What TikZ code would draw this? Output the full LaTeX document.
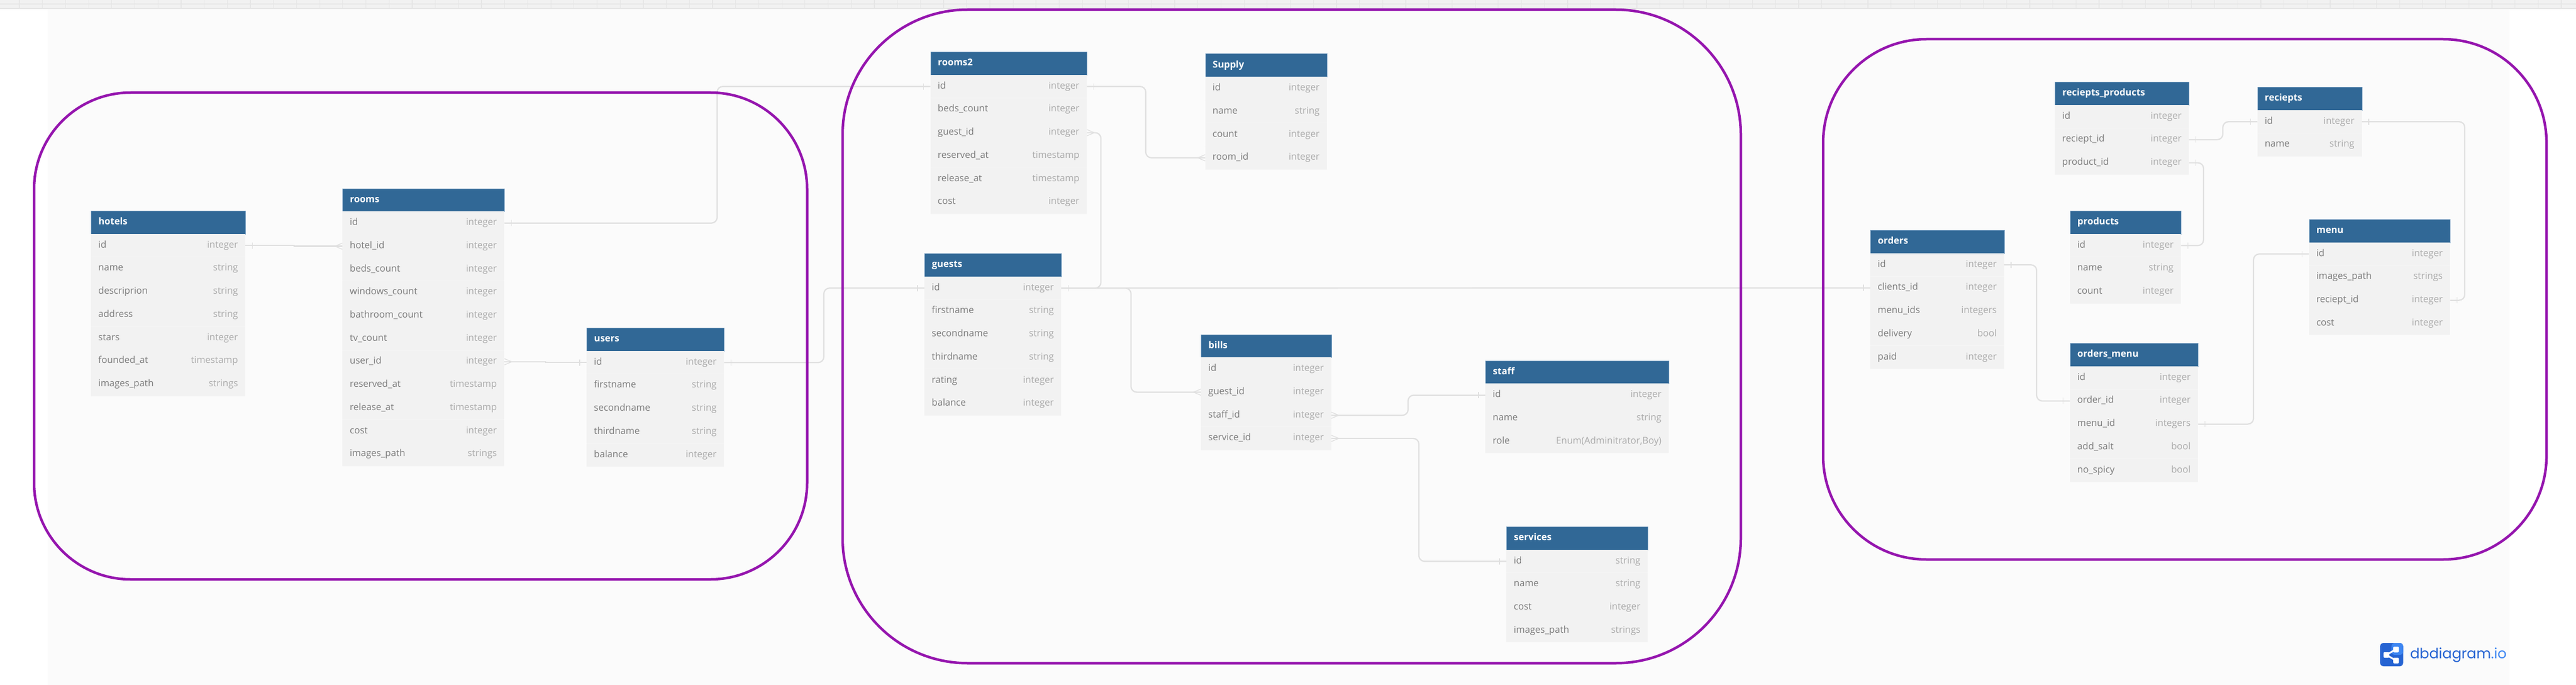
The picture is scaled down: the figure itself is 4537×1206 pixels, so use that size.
\documentclass[tikz,border=0pt]{standalone}
\usepackage{fontspec}
\setmainfont{Open Sans}
\newfontfamily\logofont{Poppins}

\definecolor{canvas}{HTML}{FBFBFB}
\definecolor{rulerfill}{HTML}{F1F1F1}
\definecolor{rulerline}{HTML}{E6E6E6}
\definecolor{headblue}{HTML}{316896}
\definecolor{headedge}{HTML}{7EA3C4}
\definecolor{rowfill}{HTML}{F2F2F2}
\definecolor{rowline}{HTML}{F5F5F5}
\definecolor{fieldtext}{HTML}{7C7C7C}
\definecolor{kindtext}{HTML}{ABABAB}
\definecolor{relline}{HTML}{E0E0E0}
\definecolor{zonepurple}{HTML}{9515AE}
\definecolor{logodark}{HTML}{2563D2}
\definecolor{logolight}{HTML}{3D86F2}

\tikzstyle{tablehead}=[anchor=north west,fill=headblue,draw=headedge,line width=.8pt,text=white,
	font=\fontsize{16.5}{20}\bfseries\selectfont,align=left,inner xsep=13pt,inner ysep=0pt,
	minimum height=40.7pt,text height=12pt,text depth=4pt]
\tikzstyle{tablerow}=[anchor=north west,fill=rowfill,text=fieldtext,
	font=\fontsize{16.5}{20}\selectfont,align=left,inner xsep=13pt,inner ysep=0pt,
	minimum height=40.7pt,text height=12pt,text depth=4pt]
\tikzstyle{relation}=[draw=relline,line width=2.2pt,rounded corners=10pt]
\tikzstyle{stepline}=[draw=relline,line width=2.2pt]
\tikzstyle{relmark}=[draw=relline,line width=1.3pt]
\tikzstyle{zone}=[draw=zonepurple,line width=4.5pt]

\tikzset{
	onebar/.pic={\draw[relmark] (12,-5.5) -- (12,5.5);},
	manycrow/.pic={\draw[relmark] (0,-5.5) -- (13,0) -- (0,5.5);}
}

% name, left, top, width, title, rows
\newcommand{\dbtable}[6]{
	\node [tablehead,text width=#4pt-26pt] (#1) at (#2,#3) {#5};
	\foreach \field/\kind [count=\i] in {#6} {
		\node [tablerow,text width=#4pt-26pt] (#1-\i) at (#2,{#3+40.7*\i}) {\field\hfill\textcolor{kindtext}{\kind}};
		\draw [rowline,line width=1pt] (#1-\i.south west) -- (#1-\i.south east);
	}
}

\begin{document}
\begin{tikzpicture}[x=1pt,y=-1pt]
	\useasboundingbox (0,0) rectangle (4537,1206);
	\fill [white] (0,0) rectangle (4537,1206);
	\fill [canvas] (84,16) rectangle (4420,1206);

	% ruler on top
	\fill [rulerfill] (0,0) rectangle (4537,16);
	\draw [rulerline,line width=1.2pt] (0,7) -- (4537,7);
	\draw [rulerline,line width=1.8pt] (0,15) -- (4537,15);
	\foreach \k in {0,...,111}
		\draw [rulerline,line width=1.2pt] ({34+40.7*\k},0) -- ({34+40.7*\k},15);

	% tables
	\dbtable{hotels}{160}{371}{272}{hotels}{id/integer,name/string,descriprion/string,address/string,stars/integer,founded\_at/timestamp,images\_path/strings}
	\dbtable{rooms}{603}{331.5}{285}{rooms}{id/integer,hotel\_id/integer,beds\_count/integer,windows\_count/integer,bathroom\_count/integer,tv\_count/integer,user\_id/integer,reserved\_at/timestamp,release\_at/timestamp,cost/integer,images\_path/strings}
	\dbtable{users}{1033}{577}{242}{users}{id/integer,firstname/string,secondname/string,thirdname/string,balance/integer}
	\dbtable{rooms2}{1638.5}{91}{275.5}{rooms2}{id/integer,beds\_count/integer,guest\_id/integer,reserved\_at/timestamp,release\_at/timestamp,cost/integer}
	\dbtable{supply}{2122.5}{94.5}{214.5}{Supply}{id/integer,name/string,count/integer,room\_id/integer}
	\dbtable{guests}{1628}{446}{241}{guests}{id/integer,firstname/string,secondname/string,thirdname/string,rating/integer,balance/integer}
	\dbtable{bills}{2115}{588.5}{229.5}{bills}{id/integer,guest\_id/integer,staff\_id/integer,service\_id/integer}
	\dbtable{staff}{2616}{634.5}{323}{staff}{id/integer,name/string,role/{Enum(Adminitrator,Boy)}}
	\dbtable{services}{2653}{927}{249}{services}{id/string,name/string,cost/integer,images\_path/strings}
	\dbtable{orders}{3294}{405}{235.5}{orders}{id/integer,clients\_id/integer,menu\_ids/integers,delivery/bool,paid/integer}
	\dbtable{recprod}{3619}{144}{236}{reciepts\_products}{id/integer,reciept\_id/integer,product\_id/integer}
	\dbtable{reciepts}{3975.5}{153}{184}{reciepts}{id/integer,name/string}
	\dbtable{products}{3645.5}{371}{195.5}{products}{id/integer,name/string,count/integer}
	\dbtable{ordersmenu}{3645.5}{604}{225.5}{orders\_menu}{id/integer,order\_id/integer,menu\_id/integers,add\_salt/bool,no\_spicy/bool}
	\dbtable{menu}{4066.5}{386}{248.5}{menu}{id/integer,images\_path/strings,reciept\_id/integer,cost/integer}

	% relations
	\draw [stepline] (hotels-1.east) -| (518,0 |- rooms-2.west) -- (rooms-2.west);
	\draw [relation] (rooms-1.east) -| (1263,0 |- rooms2-1.west) -- (rooms2-1.west);
	\draw [stepline] (rooms-7.east) -| (961,0 |- users-1.west) -- (users-1.west);
	\draw [relation] (users-1.east) -| (1451,0 |- guests-1.west) -- (guests-1.west);
	\draw [relation] (rooms2-1.east) -| (2018,0 |- supply-4.west) -- (supply-4.west);
	\draw [relation] (rooms2-3.east) -| (1939,0 |- guests-1.east) -- (guests-1.east);
	\draw [relation] (guests-1.east) -| (1992,0 |- bills-2.west) -- (bills-2.west);
	\draw [relation] (guests-1.east) -- (orders-2.west);
	\draw [relation] (bills-3.east) -| (2480,0 |- staff-1.west) -- (staff-1.west);
	\draw [relation] (bills-4.east) -| (2499,0 |- services-1.west) -- (services-1.west);
	\draw [relation] (recprod-2.east) -| (3915,0 |- reciepts-1.west) -- (reciepts-1.west);
	\draw [relation] (recprod-3.east) -| (3881,0 |- products-1.east) -- (products-1.east);
	\draw [relation] (reciepts-1.east) -| (4341,0 |- menu-3.east) -- (menu-3.east);
	\draw [relation] (orders-1.east) -| (3587,0 |- ordersmenu-2.west) -- (ordersmenu-2.west);
	\draw [relation] (ordersmenu-3.east) -| (3969,0 |- menu-1.west) -- (menu-1.west);

	% relation ends
	\pic at (hotels-1.east) {onebar};
	\pic [xscale=-1] at (rooms-2.west) {manycrow};
	\pic at (rooms-1.east) {onebar};
	\pic [xscale=-1] at (rooms2-1.west) {onebar};
	\pic at (rooms-7.east) {manycrow};
	\pic [xscale=-1] at (users-1.west) {onebar};
	\pic at (users-1.east) {onebar};
	\pic [xscale=-1] at (guests-1.west) {onebar};
	\pic at (rooms2-1.east) {onebar};
	\pic [xscale=-1] at (supply-4.west) {manycrow};
	\pic at (rooms2-3.east) {manycrow};
	\pic at (guests-1.east) {onebar};
	\pic [xscale=-1] at (bills-2.west) {manycrow};
	\pic [xscale=-1] at (orders-2.west) {onebar};
	\pic at (bills-3.east) {manycrow};
	\pic [xscale=-1] at (staff-1.west) {onebar};
	\pic at (bills-4.east) {manycrow};
	\pic [xscale=-1] at (services-1.west) {onebar};
	\pic at (recprod-2.east) {onebar};
	\pic [xscale=-1] at (reciepts-1.west) {onebar};
	\pic at (recprod-3.east) {onebar};
	\pic at (products-1.east) {onebar};
	\pic at (reciepts-1.east) {onebar};
	\pic at (menu-3.east) {onebar};
	\pic at (orders-1.east) {onebar};
	\pic [xscale=-1] at (ordersmenu-2.west) {onebar};
	\pic at (ordersmenu-3.east) {onebar};
	\pic [xscale=-1] at (menu-1.west) {onebar};

	% groups
	\draw [zone,rounded corners=170pt] (60,163) rectangle (1421.5,1020);
	\draw [zone,rounded corners=220pt] (1484,17) rectangle (3066,1167.5);
	\draw [zone,rounded corners=182pt] (3211,69) rectangle (4485,985);

	% logo
	\fill [logodark,rounded corners=6pt] (4192,1132) rectangle (4232.5,1173);
	\fill [logolight,rounded corners=6pt] (4212,1132) rectangle (4232.5,1153);
	\draw [white,line width=3pt] (4203,1153) -- (4220,1143) (4203,1153) -- (4220,1163);
	\fill [white,rounded corners=2pt] (4198,1148) rectangle (4208,1158);
	\fill [white,rounded corners=2pt] (4215,1138.5) rectangle (4225,1148.5);
	\fill [white,rounded corners=2pt] (4215,1158) rectangle (4225,1168);
	\node [anchor=west,inner sep=0pt,text=logodark,font=\fontsize{25}{30}\logofont\selectfont] (logotext) at (4244.5,1153) {dbdiagram\textcolor{logolight}{.io}};
\end{tikzpicture}
\end{document}
